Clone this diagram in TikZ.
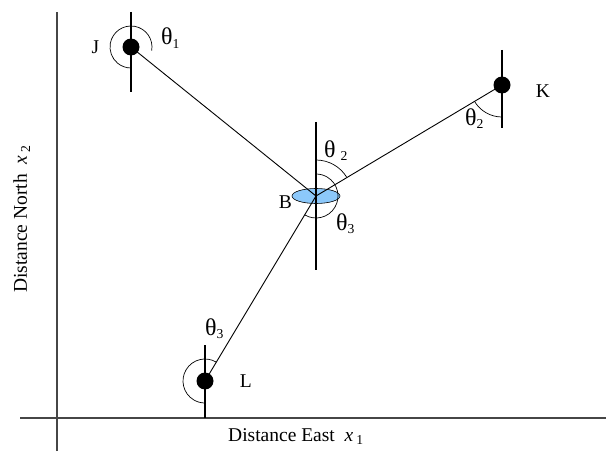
\documentclass[tikz,border=0pt]{standalone}
\usepackage{fontspec}
\setmainfont{Liberation Serif}
\usepackage{tikz}
\usetikzlibrary{positioning, calc, shapes.geometric}
\usepackage{color}
\definecolor{discblue}{RGB}{140, 200, 250}
\definecolor{axisgray}{RGB}{70, 70, 70}
\newcommand{\thetasym}{{\fontsize{24}{26}\selectfont θ}}

\begin{document}
\begin{tikzpicture}[x=1pt, y=1pt, every node/.style={font=\fontsize{19.5}{23}\selectfont, inner sep=0pt}]
    \tikzstyle{station} = [circle, fill=black, minimum size=17pt]
    \tikzstyle{beacon} = [ellipse, draw=black, fill=discblue, minimum width=48pt, minimum height=15pt, line width=0.6pt]
    \tikzstyle{axis} = [draw=axisgray, line width=1.2pt]
    \tikzstyle{north} = [line width=1.1pt]
    \tikzstyle{ray} = [line width=0.9pt]
    \tikzstyle{bearing} = [line width=0.7pt]

    \useasboundingbox (0,0) rectangle (606,451);

    % Axes
    \draw [axis] (20,33) -- (606,33);
    \draw [axis] (57,0) -- (57,439);
    \node (east) [anchor=base west] at (228,10) {Distance East~~\textit{x}\hspace{3pt}\textsubscript{1}};
    \node (north) [anchor=base west, rotate=90] at (27,158) {Distance North~~\textit{x}\hspace{3pt}\textsubscript{2}};

    % Stations and beacon
    \node (b) [beacon] at (316,255) {};
    \node (j) [station] at (131,404) {};
    \node (k) [station] at (502,366) {};
    \node (l) [station] at (205,70) {};

    % North lines
    \draw [north] ([yshift=35pt]j.center) -- ([yshift=-45pt]j.center);
    \draw [north] ([yshift=35pt]k.center) -- ([yshift=-43pt]k.center);
    \draw [north] ([yshift=74pt]b.center) -- ([yshift=-74pt]b.center);
    \draw [north] ([yshift=36pt]l.center) -- ([yshift=-37pt]l.center);

    % Rays to the beacon
    \draw [ray] (j.center) -- (b.center);
    \draw [ray] (k.center) -- (b.center);
    \draw [ray] (l.center) -- (b.center);

    % Bearing arcs
    \draw [bearing] ([shift={(-10:21)}]j.center) arc[start angle=-10, end angle=270, radius=21];
    \draw [bearing] ([shift={(211:32)}]k.center) arc[start angle=211, end angle=270, radius=32];
    \draw [bearing] ([shift={(31:36)}]b.center) arc[start angle=31, end angle=90, radius=36];
    \draw [bearing] ([shift={(-121:22)}]b.center) arc[start angle=-121, end angle=90, radius=22];
    \draw [bearing] ([shift={(59:22)}]l.center) arc[start angle=59, end angle=270, radius=22];

    % Labels
    \node (jlab) [left=23pt of j] {J};
    \node (klab) [right=25pt of k, yshift=-6pt] {K};
    \node (llab) [right=26pt of l] {L};
    \node (blab) [anchor=east] at (292,249) {B};
    \node (t1) [anchor=base west] at (161,406) {\thetasym\textsubscript{1}};
    \node (t2k) [anchor=base west] at (465,326) {\thetasym\textsubscript{2}};
    \node (t2b) [anchor=base west] at (324,294) {\thetasym~\textsubscript{2}};
    \node (t3b) [anchor=base west] at (336,221) {\thetasym\textsubscript{3}};
    \node (t3l) [anchor=base west] at (205,116) {\thetasym\textsubscript{3}};
\end{tikzpicture}
\end{document}
